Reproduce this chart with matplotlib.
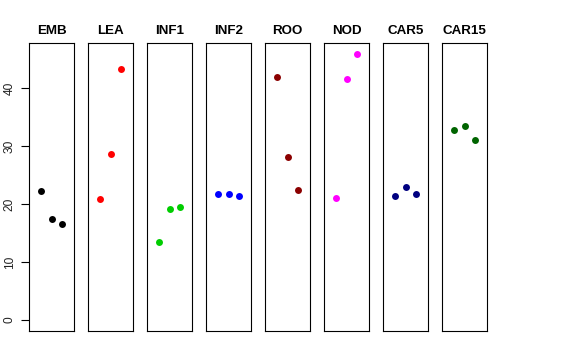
import numpy as np
import matplotlib
matplotlib.use('Agg')
import matplotlib.pyplot as plt

plt.rcParams['font.family'] = ['Liberation Sans', 'DejaVu Sans']

# tissue groups and their three values each
groups = ['EMB', 'LEA', 'INF1', 'INF2', 'ROO', 'NOD', 'CAR5', 'CAR15']
emb = [22.3, 17.4, 16.6]
lea = [20.8, 28.6, 43.3]
inf1 = [13.5, 19.1, 19.5]
inf2 = [21.8, 21.8, 21.4]
roo = [42.0, 28.1, 22.5]
nod = [21.1, 41.5, 45.9]
car5 = [21.4, 23.0, 21.7]
car15 = [32.8, 33.4, 31.0]
values = [emb, lea, inf1, inf2, roo, nod, car5, car15]
colors = ['black', 'red', '#00CD00', 'blue', '#8B0000', 'magenta', '#000080', '#006400']
yticks = [0, 10, 20, 30, 40]

W, H = 576, 360
fig = plt.figure(figsize=(W / 100, H / 100), dpi=100)

ymax = max(max(v) for v in values)
ylim = (0 - 0.04 * ymax, ymax + 0.04 * ymax)

left0, pitch, width = 29, 59, 45
top, bottom = 43.3, 330.7
for i, (g, v, c) in enumerate(zip(groups, values, colors)):
    ax = fig.add_axes([(left0 + i * pitch) / W, (H - bottom) / H,
                       width / W, (bottom - top) / H])
    ax.plot([1, 2, 3], v, 'o', color=c, markersize=5, markeredgewidth=0)
    ax.set_xlim(-0.16, 4.16)
    ax.set_ylim(*ylim)
    ax.set_xticks([])
    for s in ax.spines.values():
        s.set_linewidth(0.8)
        s.set_color('black')
    if i == 0:
        ax.set_yticks(yticks)
        ax.set_yticklabels([str(t) for t in yticks], rotation=90, va='center',
                           fontsize=8.6, color='#222222')
        ax.tick_params(axis='y', direction='out', length=5.5, width=0.8, pad=4)
    else:
        ax.set_yticks([])
    ax.set_title(g, fontsize=9.6, fontweight='bold', pad=6.5)

fig.savefig('out.png', dpi=100)
